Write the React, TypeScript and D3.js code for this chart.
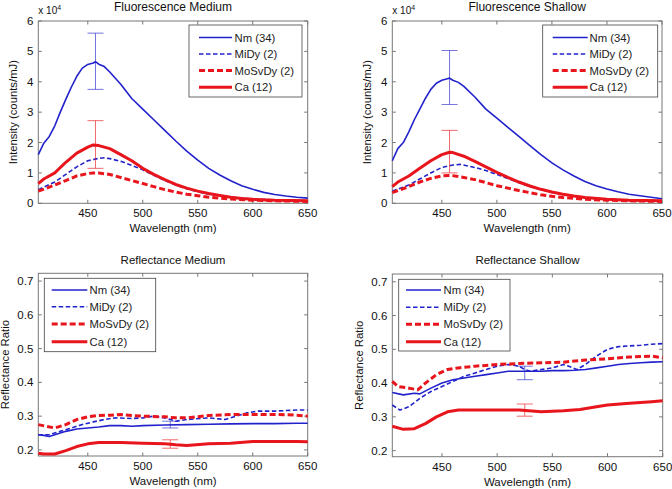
import React from "react";
import * as d3 from "d3";

const seriesNames = ["Nm (34)", "MiDy (2)", "MoSvDy (2)", "Ca (12)"];
const xTicks = [450, 500, 550, 600, 650];
const fluoTicks = [0, 1, 2, 3, 4, 5, 6];
const reflTicks = [0.2, 0.3, 0.4, 0.5, 0.6, 0.7];

// Fluorescence Medium (x 1e4)
const fmNm: [number, number][] = [[405,1.6],[410,1.98],[415,2.2],[420,2.55],[425,3.0],[430,3.42],[435,3.82],[440,4.18],[445,4.45],[450,4.57],[455,4.62],[457,4.66],[460,4.58],[465,4.5],[470,4.32],[480,3.92],[490,3.45],[500,3.1],[510,2.75],[520,2.4],[530,2.05],[540,1.72],[550,1.42],[560,1.15],[570,0.93],[580,0.74],[590,0.58],[600,0.46],[610,0.36],[620,0.29],[630,0.24],[640,0.2],[650,0.17]];
const fmMiDy: [number, number][] = [[405,0.45],[420,0.7],[430,0.95],[440,1.2],[450,1.4],[460,1.48],[465,1.5],[470,1.47],[480,1.38],[490,1.25],[500,1.1],[510,0.92],[520,0.75],[530,0.6],[540,0.48],[550,0.38],[560,0.3],[580,0.2],[600,0.14],[650,0.08]];
const fmMoSvDy: [number, number][] = [[405,0.4],[420,0.6],[430,0.75],[440,0.9],[450,0.98],[455,1.0],[460,1.0],[470,0.95],[480,0.85],[490,0.75],[500,0.65],[510,0.55],[520,0.45],[530,0.37],[540,0.3],[550,0.25],[560,0.2],[570,0.17],[580,0.14],[600,0.1],[650,0.06]];
const fmCa: [number, number][] = [[405,0.65],[410,0.8],[420,1.0],[430,1.35],[440,1.65],[450,1.85],[455,1.92],[460,1.9],[470,1.8],[480,1.6],[490,1.4],[500,1.15],[510,0.95],[520,0.78],[530,0.62],[540,0.5],[550,0.4],[560,0.32],[570,0.26],[580,0.2],[590,0.16],[600,0.13],[620,0.1],[650,0.08]];
const fmErr = [{ x: 457, lo: 3.75, hi: 5.6, s: 0 }, { x: 457, lo: 1.15, hi: 2.72, s: 3 }];

// Fluorescence Shallow (x 1e4)
const fsNm: [number, number][] = [[405,1.4],[410,1.8],[415,2.0],[420,2.35],[425,2.75],[430,3.1],[435,3.45],[440,3.75],[445,3.95],[450,4.05],[455,4.1],[457,4.12],[460,4.05],[465,3.98],[470,3.85],[480,3.5],[490,3.1],[500,2.8],[510,2.5],[520,2.2],[530,1.9],[540,1.6],[550,1.33],[560,1.1],[570,0.9],[580,0.72],[590,0.58],[600,0.47],[610,0.38],[620,0.3],[630,0.25],[640,0.2],[650,0.15]];
const fsMiDy: [number, number][] = [[405,0.4],[420,0.6],[430,0.8],[440,1.0],[450,1.18],[460,1.26],[467,1.28],[475,1.22],[480,1.18],[490,1.08],[500,0.95],[510,0.82],[520,0.68],[530,0.55],[540,0.45],[550,0.36],[560,0.29],[580,0.19],[600,0.13],[650,0.07]];
const fsMoSvDy: [number, number][] = [[405,0.35],[420,0.55],[430,0.7],[440,0.82],[450,0.9],[458,0.92],[470,0.85],[480,0.78],[490,0.68],[500,0.58],[510,0.5],[520,0.42],[530,0.35],[540,0.28],[550,0.23],[560,0.19],[580,0.13],[600,0.1],[650,0.06]];
const fsCa: [number, number][] = [[405,0.55],[410,0.7],[420,0.9],[430,1.15],[440,1.4],[450,1.6],[457,1.68],[460,1.67],[470,1.55],[480,1.38],[490,1.2],[500,1.02],[510,0.85],[520,0.7],[530,0.57],[540,0.46],[550,0.37],[560,0.3],[570,0.24],[580,0.19],[600,0.13],[620,0.1],[650,0.08]];
const fsErr = [{ x: 457, lo: 3.25, hi: 5.03, s: 0 }, { x: 457, lo: 1.0, hi: 2.4, s: 3 }];

// Reflectance Medium
const rmNm: [number, number][] = [[405,0.245],[410,0.243],[415,0.24],[420,0.245],[430,0.255],[440,0.262],[450,0.265],[460,0.268],[470,0.272],[480,0.272],[490,0.27],[500,0.272],[520,0.274],[540,0.275],[560,0.276],[580,0.277],[600,0.278],[620,0.278],[640,0.279],[650,0.279]];
const rmMiDy: [number, number][] = [[405,0.245],[415,0.245],[425,0.255],[435,0.265],[445,0.275],[455,0.283],[465,0.29],[475,0.295],[490,0.293],[500,0.295],[510,0.3],[520,0.295],[530,0.285],[540,0.29],[560,0.295],[575,0.29],[585,0.3],[595,0.31],[605,0.315],[620,0.315],[640,0.318],[650,0.318]];
const rmMoSvDy: [number, number][] = [[405,0.275],[412,0.27],[420,0.265],[430,0.275],[440,0.29],[450,0.298],[460,0.302],[470,0.303],[480,0.305],[490,0.302],[500,0.3],[520,0.298],[530,0.295],[540,0.295],[560,0.302],[580,0.305],[600,0.305],[620,0.305],[640,0.303],[650,0.3]];
const rmCa: [number, number][] = [[405,0.19],[410,0.188],[420,0.188],[430,0.198],[440,0.21],[450,0.218],[460,0.222],[470,0.222],[480,0.222],[500,0.22],[520,0.218],[530,0.215],[540,0.213],[560,0.218],[580,0.22],[600,0.225],[620,0.225],[640,0.225],[650,0.224]];
const rmErr = [{ x: 525, lo: 0.265, hi: 0.285, s: 0 }, { x: 525, lo: 0.205, hi: 0.23, s: 3 }];

// Reflectance Shallow
const rsNm: [number, number][] = [[405,0.372],[415,0.365],[425,0.37],[430,0.368],[440,0.385],[450,0.4],[460,0.41],[470,0.415],[480,0.42],[490,0.425],[500,0.43],[510,0.435],[520,0.435],[530,0.435],[540,0.435],[550,0.437],[560,0.437],[570,0.438],[580,0.44],[590,0.445],[600,0.45],[610,0.455],[620,0.458],[630,0.46],[640,0.462],[650,0.463]];
const rsMiDy: [number, number][] = [[405,0.335],[412,0.32],[420,0.33],[430,0.355],[440,0.375],[450,0.39],[460,0.405],[470,0.42],[480,0.43],[490,0.44],[500,0.45],[510,0.455],[520,0.45],[525,0.44],[530,0.435],[540,0.44],[550,0.445],[560,0.455],[565,0.45],[572,0.44],[580,0.455],[590,0.48],[600,0.5],[610,0.508],[620,0.51],[630,0.512],[640,0.515],[650,0.517]];
const rsMoSvDy: [number, number][] = [[405,0.405],[410,0.39],[420,0.385],[428,0.38],[435,0.4],[445,0.425],[455,0.44],[465,0.445],[480,0.45],[500,0.455],[520,0.458],[540,0.46],[560,0.462],[580,0.468],[600,0.472],[620,0.477],[640,0.48],[650,0.475]];
const rsCa: [number, number][] = [[405,0.272],[415,0.263],[425,0.265],[435,0.28],[445,0.3],[455,0.315],[465,0.32],[480,0.32],[500,0.32],[520,0.32],[540,0.315],[560,0.318],[575,0.322],[590,0.33],[600,0.335],[620,0.34],[640,0.345],[650,0.348]];
const rsErr = [{ x: 525, lo: 0.41, hi: 0.45, s: 0 }, { x: 525, lo: 0.302, hi: 0.338, s: 3 }];

const BLUE = "#2222cc";
const RED = "#e8161c";
const styles = [
  { color: BLUE, width: 1.6, dash: "" },
  { color: BLUE, width: 1.6, dash: "4.5,2.5" },
  { color: RED, width: 3, dash: "6,3" },
  { color: RED, width: 3, dash: "" },
];
const FONT = "'Liberation Sans', Arial, sans-serif";

type PanelProps = {
  title: string;
  titleSize: number;
  left: number; right: number; top: number; bottom: number;
  yDomain: [number, number];
  yTicks: number[];
  yLabel: string;
  yLabelX: number;
  data: [number, number][][];
  errs: { x: number; lo: number; hi: number; s: number }[];
  legend: { x0: number; x1: number; y0: number; y1: number; lx0: number; lx1: number; tx: number; rows: number[] };
  titleY: number;
  exponent?: boolean;
  tickFmt: (v: number) => string;
};

function Panel(p: PanelProps) {
  const x = d3.scaleLinear().domain([405, 650]).range([p.left, p.right]);
  const y = d3.scaleLinear().domain(p.yDomain).range([p.bottom, p.top]);
  const line = d3.line<[number, number]>().x((d) => x(d[0])).y((d) => y(d[1]));
  const tl = 3.5;
  const axisColor = "#777";
  const cx = (p.left + p.right) / 2;
  return (
    <g>
      <rect x={p.left} y={p.top} width={p.right - p.left} height={p.bottom - p.top} fill="white" stroke={axisColor} strokeWidth={1} />
      {xTicks.map((t) => (
        <g key={"xt" + t}>
          <line x1={x(t)} x2={x(t)} y1={p.bottom} y2={p.bottom - tl} stroke={axisColor} />
          <line x1={x(t)} x2={x(t)} y1={p.top} y2={p.top + tl} stroke={axisColor} />
          <text x={x(t)} y={p.bottom + 14} textAnchor="middle" fontSize={11.5} fontFamily={FONT} fill="#111">{t}</text>
        </g>
      ))}
      {p.yTicks.map((t) => (
        <g key={"yt" + t}>
          <line x1={p.left} x2={p.left + tl} y1={y(t)} y2={y(t)} stroke={axisColor} />
          <line x1={p.right} x2={p.right - tl} y1={y(t)} y2={y(t)} stroke={axisColor} />
          <text x={p.left - 5} y={y(t) + 4} textAnchor="end" fontSize={11.5} fontFamily={FONT} fill="#111">{p.tickFmt(t)}</text>
        </g>
      ))}
      <text x={cx} y={p.bottom + 29} textAnchor="middle" fontSize={11.5} fontFamily={FONT} fill="#111">Wavelength (nm)</text>
      <text transform={`translate(${p.yLabelX},${(p.top + p.bottom) / 2}) rotate(-90)`} textAnchor="middle" fontSize={11.3} fontFamily={FONT} fill="#111">{p.yLabel}</text>
      <text x={cx} y={p.titleY} textAnchor="middle" fontSize={p.titleSize} fontFamily={FONT} fill="#111">{p.title}</text>
      {p.exponent && (
        <text x={p.left} y={p.top - 7} fontSize={10} fontFamily={FONT} fill="#111">
          x 10<tspan dy={-4} fontSize={7}>4</tspan>
        </text>
      )}
      <g>
        {p.data.map((d, i) => (
          <path key={"s" + i} d={line(d) || ""} fill="none" stroke={styles[i].color} strokeWidth={styles[i].width} strokeDasharray={styles[i].dash} strokeLinejoin="round" />
        ))}
        {p.errs.map((e, i) => (
          <g key={"e" + i} stroke={styles[e.s].color} strokeWidth={0.8} opacity={0.8}>
            <line x1={x(e.x)} x2={x(e.x)} y1={y(e.lo)} y2={y(e.hi)} />
            <line x1={x(e.x) - 8} x2={x(e.x) + 8} y1={y(e.lo)} y2={y(e.lo)} />
            <line x1={x(e.x) - 8} x2={x(e.x) + 8} y1={y(e.hi)} y2={y(e.hi)} />
          </g>
        ))}
      </g>
      <g>
        <rect x={p.legend.x0} y={p.legend.y0} width={p.legend.x1 - p.legend.x0} height={p.legend.y1 - p.legend.y0} fill="white" stroke="#444" strokeWidth={0.8} />
        {seriesNames.map((n, i) => (
          <g key={"l" + i}>
            <line x1={p.legend.lx0} x2={p.legend.lx1} y1={p.legend.rows[i]} y2={p.legend.rows[i]} stroke={styles[i].color} strokeWidth={styles[i].width} strokeDasharray={styles[i].dash} />
            <text x={p.legend.tx} y={p.legend.rows[i] + 4} fontSize={11.3} fontFamily={FONT} fill="#222">{n}</text>
          </g>
        ))}
      </g>
    </g>
  );
}

export default function App() {
  const fmt1 = (v: number) => d3.format("d")(v);
  const fmt2 = (v: number) => d3.format(".1f")(v);
  return (
    <svg width={672} height={489} style={{ position: "absolute", left: 0, top: 0, background: "white" }}>
      <rect width={672} height={489} fill="white" />
      <Panel title="Fluorescence Medium" titleSize={12} left={38.3} right={307.7} top={21} bottom={203.3} yDomain={[0, 6]} yTicks={fluoTicks}
        yLabel="Intensity (counts/mJ)" yLabelX={17} data={[fmNm, fmMiDy, fmMoSvDy, fmCa]} errs={fmErr}
        legend={{ x0: 189, x1: 302, y0: 25, y1: 97, lx0: 199, lx1: 232, tx: 234.5, rows: [37.5, 54, 70.5, 87.3] }}
        titleY={11} exponent tickFmt={fmt1} />
      <Panel title="Fluorescence Shallow" titleSize={12} left={392.3} right={662} top={21} bottom={203.3} yDomain={[0, 6]} yTicks={fluoTicks}
        yLabel="Intensity (counts/mJ)" yLabelX={371} data={[fsNm, fsMiDy, fsMoSvDy, fsCa]} errs={fsErr}
        legend={{ x0: 542.7, x1: 657.7, y0: 25, y1: 97, lx0: 552.7, lx1: 587.7, tx: 589.5, rows: [37.5, 54, 70.5, 87.3] }}
        titleY={11} exponent tickFmt={fmt1} />
      <Panel title="Reflectance Medium" titleSize={11.5} left={38.3} right={307.7} top={273.3} bottom={456} yDomain={[0.182, 0.723]} yTicks={reflTicks}
        yLabel="Reflectance Ratio" yLabelX={9} data={[rmNm, rmMiDy, rmMoSvDy, rmCa]} errs={rmErr}
        legend={{ x0: 44.3, x1: 155.7, y0: 278.3, y1: 351.7, lx0: 51.7, lx1: 87.3, tx: 89.5, rows: [290, 306.7, 324, 341.7] }}
        titleY={264} tickFmt={fmt2} />
      <Panel title="Reflectance Shallow" titleSize={11.5} left={392.3} right={662.7} top={274} bottom={456.7} yDomain={[0.182, 0.723]} yTicks={reflTicks}
        yLabel="Reflectance Ratio" yLabelX={363} data={[rsNm, rsMiDy, rsMoSvDy, rsCa]} errs={rsErr}
        legend={{ x0: 398.7, x1: 510, y0: 279.3, y1: 351, lx0: 406, lx1: 441, tx: 443.5, rows: [290, 307.3, 324.3, 341.7] }}
        titleY={264} tickFmt={fmt2} />
    </svg>
  );
}
